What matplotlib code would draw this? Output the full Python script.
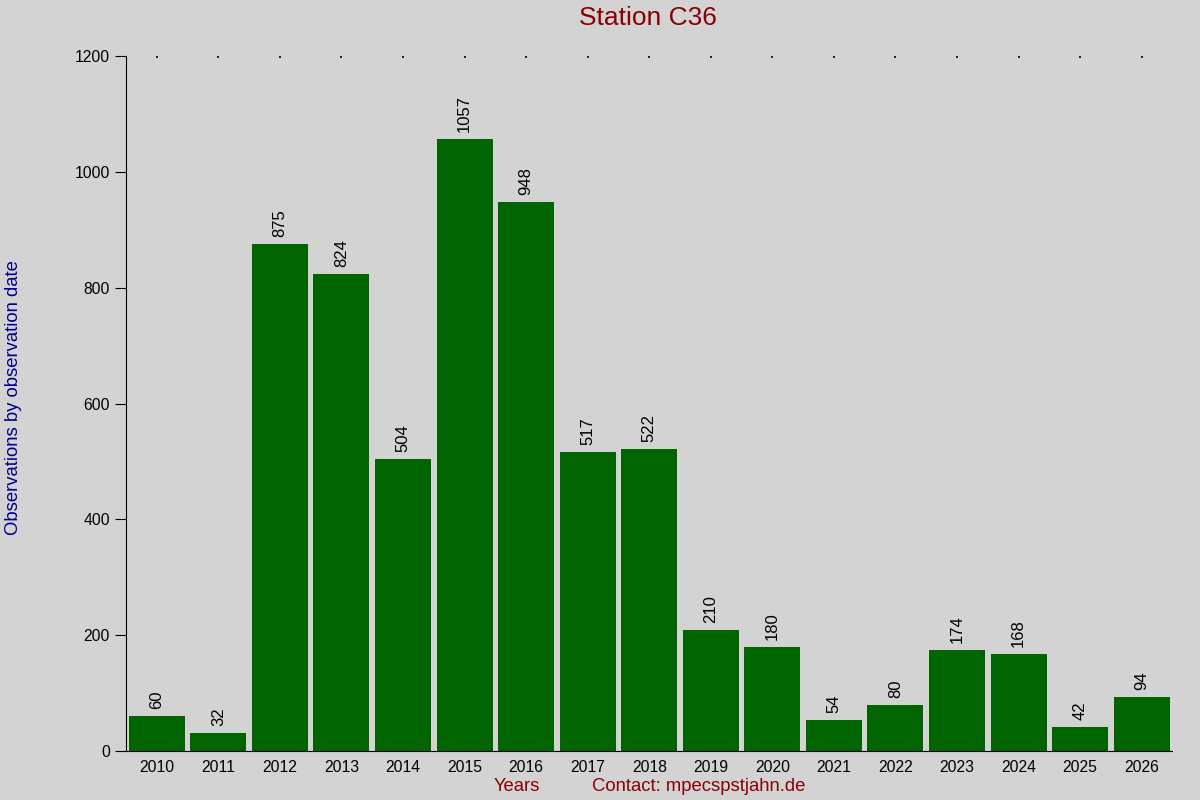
import matplotlib
matplotlib.use('Agg')
import matplotlib.pyplot as plt

plt.rcParams['font.family'] = ['Liberation Sans', 'DejaVu Sans']

years = [2010, 2011, 2012, 2013, 2014, 2015, 2016, 2017, 2018,
         2019, 2020, 2021, 2022, 2023, 2024, 2025, 2026]
counts = [60, 32, 875, 824, 504, 1057, 948, 517, 522,
          210, 180, 54, 80, 174, 168, 42, 94]

bg = '#d3d3d3'
fig = plt.figure(figsize=(12, 8), dpi=100, facecolor=bg)
ax = fig.add_axes([0.105, 0.061, 0.872, 0.869], facecolor=bg)

bars = ax.bar(years, counts, width=0.91, color='#006400')
for x, v in zip(years, counts):
    ax.text(x, v + 12, str(v), rotation=90, ha='center', va='bottom', fontsize=12)

ax.set_xlim(2009.5, 2026.5)
ax.set_ylim(0, 1200)
ax.set_yticks(range(0, 1201, 200))
ax.set_xticks(years)
ax.set_xticklabels([str(y) for y in years])
ax.tick_params(axis='x', bottom=False, top=True, direction='in', length=1.2,
               width=1.2, labelsize=11.3, pad=6)
ax.tick_params(axis='y', direction='out', length=8, labelsize=11.3)

for s in ['top', 'right']:
    ax.spines[s].set_visible(False)

fig.text(0.54, 0.978, 'Station C36', ha='center', va='center',
         fontsize=19, color='#8b0000')
fig.text(0.011, 0.503, 'Observations by observation date', rotation=90,
         ha='center', va='center', fontsize=13.3, color='#00008b')
fig.text(0.431, 0.017, 'Years', ha='center', va='center', fontsize=13.3, color='#8b0000')
fig.text(0.582, 0.017, 'Contact: mpecspstjahn.de', ha='center', va='center',
         fontsize=13.3, color='#8b0000')

fig.savefig('out.png', dpi=100, facecolor=bg)
